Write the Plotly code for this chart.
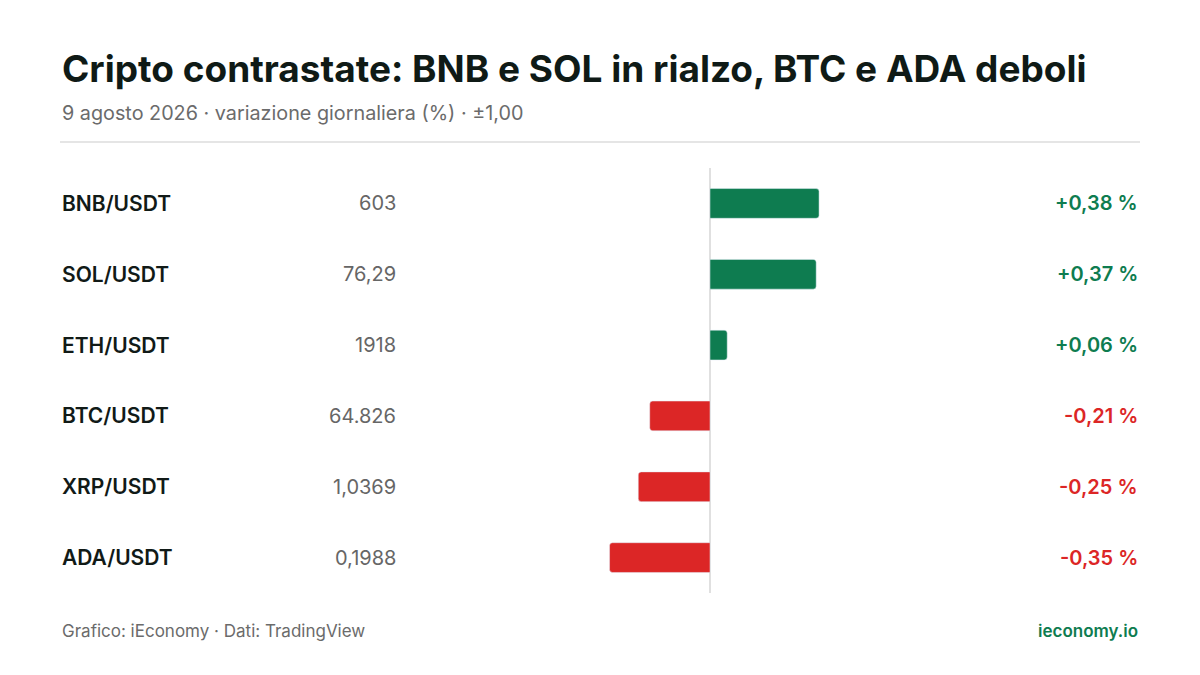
import plotly.graph_objects as go

pairs = ["BNB/USDT", "SOL/USDT", "ETH/USDT", "BTC/USDT", "XRP/USDT", "ADA/USDT"]
prices = ["603", "76,29", "1918", "64.826", "1,0369", "0,1988"]
changes = [0.38, 0.37, 0.06, -0.21, -0.25, -0.35]

GREEN = "#0e7c50"
RED = "#dc2626"
W, H = 1200, 675
FONT = "Inter"
OFF = 8

def px(x): return (x - OFF) / W
def py(y): return 1 - (y - OFF) / H

colors = [GREEN if c >= 0 else RED for c in changes]
fig = go.Figure(go.Bar(
    x=changes, y=pairs, orientation="h", marker=dict(color=colors, cornerradius=3),
    width=0.42, hoverinfo="skip"))

ann = []
for p, pr, c, col in zip(pairs, prices, changes, colors):
    ann.append(dict(x=px(60), y=p, xref="paper", yref="y", text=f"<span style='font-weight:600'>{p}</span>",
                    showarrow=False, xanchor="left", font=dict(size=21, color="#111a17", family=FONT)))
    ann.append(dict(x=px(398), y=p, xref="paper", yref="y", text=pr, showarrow=False,
                    xanchor="right", font=dict(size=20, color="#666", family=FONT)))
    s = ("+" if c >= 0 else "-") + f"{abs(c):.2f}".replace(".", ",") + " %"
    ann.append(dict(x=px(1140), y=p, xref="paper", yref="y", text=f"<span style='font-weight:600'>{s}</span>",
                    showarrow=False, xanchor="right", font=dict(size=20, color=col, family=FONT)))

ann += [
    dict(x=px(60), y=py(68), xref="paper", yref="paper", xanchor="left", yanchor="middle", showarrow=False,
         text="<b>Cripto contrastate: BNB e SOL in rialzo, BTC e ADA deboli</b>",
         font=dict(size=37, color="#0f1a16", family=FONT)),
    dict(x=px(60), y=py(113), xref="paper", yref="paper", xanchor="left", yanchor="middle", showarrow=False,
         text="9 agosto 2026 · variazione giornaliera (%) · ±1,00",
         font=dict(size=19.8, color="#6b6b6b", family=FONT)),
    dict(x=px(60), y=py(631), xref="paper", yref="paper", xanchor="left", yanchor="middle", showarrow=False,
         text="Grafico: iEconomy · Dati: TradingView", font=dict(size=17, color="#6b6b6b", family=FONT)),
    dict(x=px(1140), y=py(631), xref="paper", yref="paper", xanchor="right", yanchor="middle", showarrow=False,
         text="<span style='font-weight:600'>ieconomy.io</span>", font=dict(size=17, color=GREEN, family=FONT)),
]

shapes = [
    dict(type="line", xref="paper", yref="paper", x0=px(60), x1=px(1140), y0=py(142), y1=py(142),
         line=dict(color="#dddddd", width=1.5)),
    dict(type="line", xref="x", yref="paper", x0=0, x1=0, y0=py(168), y1=py(593),
         line=dict(color="#d6d6d6", width=1.5), layer="below"),
]

fig.update_layout(
    width=W, height=H, margin=dict(l=0, r=0, t=0, b=0),
    paper_bgcolor="white", plot_bgcolor="white", showlegend=False,
    xaxis=dict(range=[-1, 1], domain=[px(423), px(997)], visible=False, fixedrange=True),
    yaxis=dict(range=[5.5, -0.5], domain=[py(593), py(168)], visible=False, fixedrange=True),
    annotations=ann, shapes=shapes,
)
fig.write_html("out.html")
